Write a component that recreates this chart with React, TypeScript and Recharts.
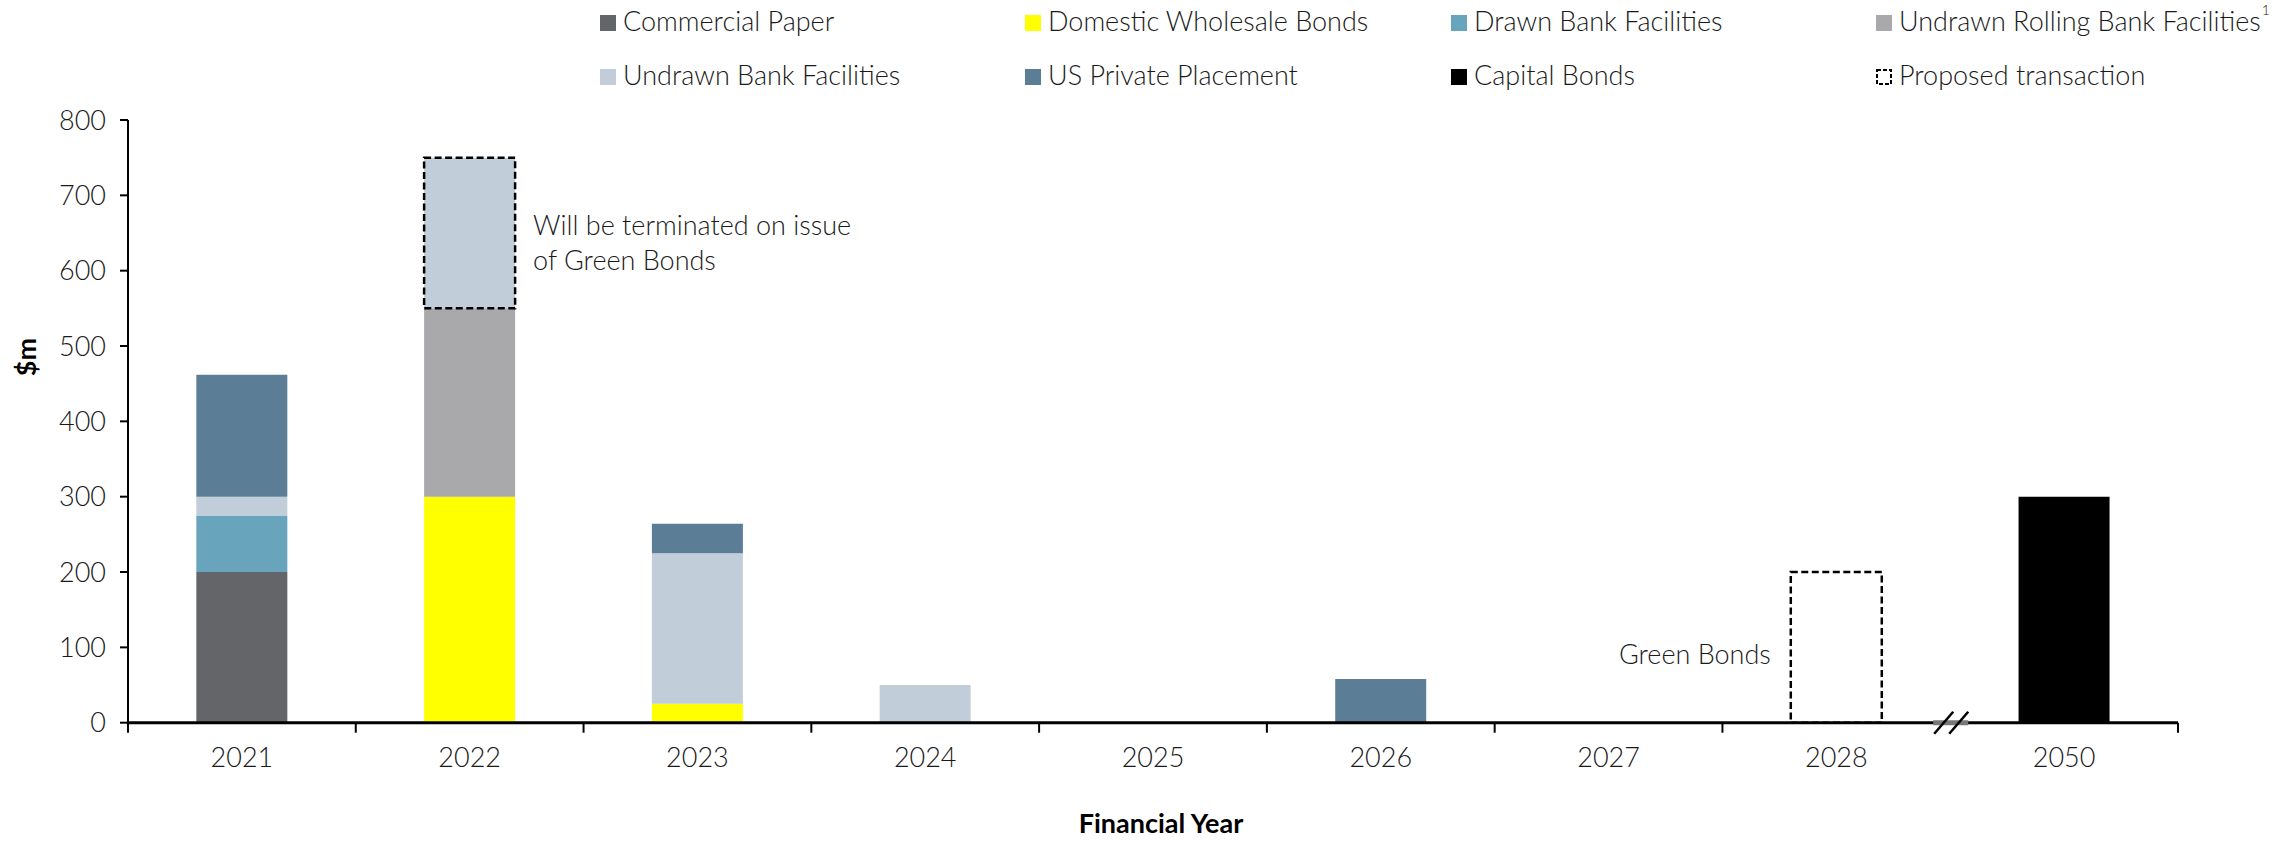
import React from 'react';
import { BarChart, Bar, XAxis, YAxis, Legend, Cell, LabelList } from 'recharts';

// ---------- data ----------
const years = ['2021', '2022', '2023', '2024', '2025', '2026', '2027', '2028', '2050'];
const commercialPaper = [200, 0, 0, 0, 0, 0, 0, 0, 0];
const domesticWholesaleBonds = [0, 300, 25, 0, 0, 0, 0, 0, 0];
const drawnBankFacilities = [75, 0, 0, 0, 0, 0, 0, 0, 0];
const undrawnRollingBankFacilities = [0, 250, 0, 0, 0, 0, 0, 0, 0];
const undrawnBankFacilities = [25, 200, 200, 50, 0, 0, 0, 0, 0];
const usPrivatePlacement = [162, 0, 39, 0, 0, 58, 0, 0, 0];
const capitalBonds = [0, 0, 0, 0, 0, 0, 0, 0, 300];
const proposedTransaction = [0, 0, 0, 0, 0, 0, 0, 200, 0];
const terminatedYears = ['2022'];
const breakBeforeYear = '2050';
const yTicks = [0, 100, 200, 300, 400, 500, 600, 700, 800];
const terminatedNote = ['Will be terminated on issue', 'of Green Bonds'];
const greenBondsNote = 'Green Bonds';
const yAxisTitle = '$m';
const xAxisTitle = 'Financial Year';

const series = [
  { key: 'cp', name: 'Commercial Paper', color: '#646569', values: commercialPaper },
  { key: 'dwb', name: 'Domestic Wholesale Bonds', color: '#FFFF00', values: domesticWholesaleBonds },
  { key: 'dbf', name: 'Drawn Bank Facilities', color: '#68A4BB', values: drawnBankFacilities },
  { key: 'urbf', name: 'Undrawn Rolling Bank Facilities', color: '#A9A9AB', values: undrawnRollingBankFacilities },
  { key: 'ubf', name: 'Undrawn Bank Facilities', color: '#C1CED9', values: undrawnBankFacilities },
  { key: 'uspp', name: 'US Private Placement', color: '#5B7D96', values: usPrivatePlacement },
  { key: 'cb', name: 'Capital Bonds', color: '#000000', values: capitalBonds },
  { key: 'pt', name: 'Proposed transaction', color: 'none', values: proposedTransaction },
];

// legend rows (by series key), superscript note
const legendRow1 = ['cp', 'dwb', 'dbf', 'urbf'];
const legendRow2 = ['ubf', 'uspp', 'cb', 'pt'];
const legendFootnoteKey = 'urbf';
const legendFootnote = '1';

const data = years.map((year, i) => {
  const row: Record<string, any> = { year };
  series.forEach((s) => {
    row[s.key] = s.values[i] ? s.values[i] : null;
  });
  return row;
});

// ---------- layout ----------
const W = 2295;
const H = 841;
const FONT = 'Lato, "Open Sans", sans-serif';
const FS = 27;
const TEXT = '#1a1a1a';
const PLOT_LEFT = 128;
const PLOT_RIGHT = 2178;
const BAND = (PLOT_RIGHT - PLOT_LEFT) / years.length;
const DASH = '7 3.5';

const legendCols = [600, 1025, 1451, 1876];
const legendRowsY = [31, 85];

const LegendContent = () => {
  const rows = [legendRow1, legendRow2];
  return (
    <svg width={W} height={100} style={{ display: 'block' }}>
      {rows.map((row, r) =>
        row.map((k, c) => {
          const s = series.find((z) => z.key === k)!;
          const x = legendCols[c];
          const base = legendRowsY[r];
          return (
            <g key={k}>
              {s.key === 'pt' ? (
                <rect x={x + 1} y={base - 15} width={14} height={14} fill="none" stroke="#000" strokeWidth={2} strokeDasharray="4 2" />
              ) : (
                <rect x={x} y={base - 16} width={16} height={16} fill={s.color} />
              )}
              <text x={x + 23} y={base} fontSize={FS} fontFamily={FONT} fontWeight={300} fill={TEXT}>
                {s.name}
                {k === legendFootnoteKey ? (
                  <tspan fontSize={14} dx={1} dy={-16}>{legendFootnote}</tspan>
                ) : null}
              </text>
            </g>
          );
        })
      )}
    </svg>
  );
};

const XTick = (props: any) => {
  const { x, y, payload, index } = props;
  const half = BAND / 2;
  const left = x - half;
  const isBreak = payload.value === breakBeforeYear;
  const isLast = index === years.length - 1;
  return (
    <g>
      {isBreak ? (
        <g>
          <line x1={left - 17} x2={left + 18} y1={y} y2={y} stroke="#777" strokeWidth={5} />
          <line x1={left - 16} y1={y + 11} x2={left + 3} y2={y - 11} stroke="#000" strokeWidth={2.5} />
          <line x1={left - 1} y1={y + 11} x2={left + 18} y2={y - 11} stroke="#000" strokeWidth={2.5} />
        </g>
      ) : (
        <line x1={left} x2={left} y1={y} y2={y + 10} stroke="#000" strokeWidth={2} />
      )}
      {isLast ? <line x1={x + half} x2={x + half} y1={y} y2={y + 10} stroke="#000" strokeWidth={2} /> : null}
      <text x={x} y={y + 44} textAnchor="middle" fontSize={FS} fontFamily={FONT} fontWeight={300} fill={TEXT}>
        {payload.value}
      </text>
    </g>
  );
};

const YAxisTitle = (props: any) => {
  const vb = props.viewBox || {};
  const cx = 26;
  const cy = (vb.y ?? 120) + (vb.height ?? 600) * 0.4 - 4;
  return (
    <text x={cx} y={cy} transform={`rotate(-90 ${cx} ${cy})`} textAnchor="middle" dominantBaseline="central" fontSize={FS} fontWeight={700} fontFamily={FONT} fill="#000">
      {yAxisTitle}
    </text>
  );
};

const XAxisTitle = (props: any) => {
  const vb = props.viewBox || {};
  const cx = (vb.x ?? 128) + (vb.width ?? 2050) / 2 + 8;
  const base = (vb.y ?? 723) + 110;
  return (
    <text x={cx} y={base} textAnchor="middle" fontSize={FS} fontWeight={700} fontFamily={FONT} fill="#000">
      {xAxisTitle}
    </text>
  );
};

const TerminatedNote = (props: any) => {
  const { x, y, width, index } = props;
  if (x == null || y == null || !terminatedYears.includes(years[index])) return null;
  const tx = x + width + 18;
  return (
    <g>
      {terminatedNote.map((t, i) => (
        <text key={i} x={tx} y={y + 77 + i * 35} fontSize={FS} fontFamily={FONT} fontWeight={300} fill={TEXT}>
          {t}
        </text>
      ))}
    </g>
  );
};

const GreenNote = (props: any) => {
  const { x, y, value } = props;
  if (x == null || y == null || !value) return null;
  return (
    <text x={x - 20} y={y + 92} textAnchor="end" fontSize={FS} fontFamily={FONT} fontWeight={300} fill={TEXT}>
      {greenBondsNote}
    </text>
  );
};

export default function App() {
  return (
    <div style={{ width: W, height: H, background: '#fff', fontFamily: FONT }}>
      <style>{`body{margin:0;}`}</style>
      <BarChart
        width={W}
        height={H}
        data={data}
        margin={{ top: 120, right: W - PLOT_RIGHT, left: PLOT_LEFT - 60, bottom: 58.3 }}
        barCategoryGap="30%"
      >
        <Legend
          layout="horizontal"
          verticalAlign="middle"
          align="center"
          content={<LegendContent />}
          wrapperStyle={{ position: 'absolute', top: 0, left: 0, width: W, height: 100 }}
        />
        <YAxis
          width={60}
          domain={[0, 800]}
          ticks={yTicks}
          interval={0}
          tickSize={8}
          tickMargin={14}
          axisLine={{ stroke: '#000', strokeWidth: 2 }}
          tickLine={{ stroke: '#000', strokeWidth: 2 }}
          tick={{ fontSize: FS, fontFamily: FONT, fontWeight: 300, fill: TEXT }}
          label={<YAxisTitle />}
        />
        <XAxis
          dataKey="year"
          height={60}
          interval={0}
          tickSize={0}
          tickMargin={0}
          tickLine={false}
          axisLine={{ stroke: '#000', strokeWidth: 3 }}
          tick={<XTick />}
          label={<XAxisTitle />}
        />
        {series.map((s) => {
          if (s.key === 'pt') {
            return (
              <Bar key={s.key} dataKey={s.key} name={s.name} stackId="a" fill="none" stroke="#000" strokeWidth={2.5} strokeDasharray={DASH} isAnimationActive={false}>
                <LabelList dataKey={s.key} content={<GreenNote />} />
              </Bar>
            );
          }
          if (s.key === 'ubf') {
            return (
              <Bar key={s.key} dataKey={s.key} name={s.name} stackId="a" fill={s.color} isAnimationActive={false}>
                {years.map((yr) =>
                  terminatedYears.includes(yr) ? (
                    <Cell key={yr} fill={s.color} stroke="#000" strokeWidth={2.5} strokeDasharray={DASH} />
                  ) : (
                    <Cell key={yr} fill={s.color} />
                  )
                )}
                <LabelList dataKey={s.key} content={<TerminatedNote />} />
              </Bar>
            );
          }
          return <Bar key={s.key} dataKey={s.key} name={s.name} stackId="a" fill={s.color} isAnimationActive={false} />;
        })}
      </BarChart>
    </div>
  );
}
